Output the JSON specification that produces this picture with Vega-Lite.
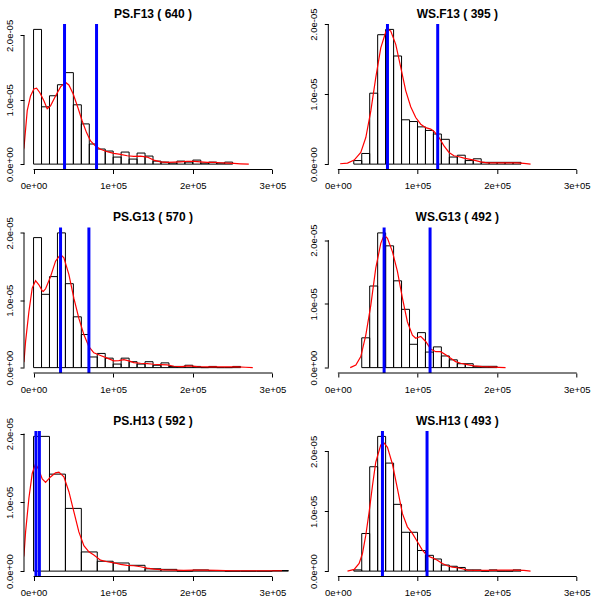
{
  "$schema": "https://vega.github.io/schema/vega-lite/v6.json",
  "background": "white",
  "padding": {"left": 3, "top": 7, "right": 0, "bottom": 0},
  "columns": 2,
  "bounds": "flush",
  "spacing": {"row": 57.5, "column": 46.3},
  "config": {
    "view": {"stroke": null},
    "font": "Liberation Sans",
    "text": {"font": "Liberation Sans", "fontSize": 12, "fontWeight": "bold", "color": "black", "align": "center", "baseline": "alphabetic", "dy": -6.5},
    "axisX": {"domain": false, "grid": false, "tickSize": 4, "tickColor": "black", "tickWidth": 1, "labelFont": "Liberation Sans", "labelFontSize": 9.5, "labelColor": "black", "labelPadding": 15, "labelBaseline": "alphabetic", "labelFlush": false, "labelOverlap": false},
    "axisY": {"domain": false, "grid": false, "tickSize": 4, "tickColor": "black", "tickWidth": 1, "labelFont": "Liberation Sans", "labelFontSize": 9.5, "labelColor": "black", "labelAngle": -90, "labelAlign": "center", "labelBaseline": "alphabetic", "labelPadding": 8, "labelFlush": false, "labelOverlap": false}
  },
  "datasets": {
    "b1": [
      {"x0": 0, "x1": 10000, "d": 2.094e-5}, {"x0": 10000, "x1": 20000, "d": 8.906e-6}, {"x0": 20000, "x1": 30000, "d": 1.0625e-5},
      {"x0": 30000, "x1": 40000, "d": 1.234e-5}, {"x0": 40000, "x1": 50000, "d": 1.422e-5}, {"x0": 50000, "x1": 60000, "d": 9.219e-6},
      {"x0": 60000, "x1": 70000, "d": 6.25e-6}, {"x0": 70000, "x1": 80000, "d": 3.125e-6}, {"x0": 80000, "x1": 90000, "d": 2.344e-6},
      {"x0": 90000, "x1": 100000, "d": 2.031e-6}, {"x0": 100000, "x1": 110000, "d": 1.094e-6}, {"x0": 110000, "x1": 120000, "d": 1.875e-6},
      {"x0": 120000, "x1": 130000, "d": 7.81e-7}, {"x0": 130000, "x1": 140000, "d": 1.719e-6}, {"x0": 140000, "x1": 150000, "d": 1.25e-6},
      {"x0": 150000, "x1": 160000, "d": 4.69e-7}, {"x0": 160000, "x1": 170000, "d": 3.13e-7}, {"x0": 170000, "x1": 180000, "d": 1.56e-7},
      {"x0": 180000, "x1": 190000, "d": 4.69e-7}, {"x0": 190000, "x1": 200000, "d": 3.13e-7}, {"x0": 200000, "x1": 210000, "d": 6.25e-7},
      {"x0": 210000, "x1": 220000, "d": 1.56e-7}, {"x0": 220000, "x1": 230000, "d": 3.13e-7}, {"x0": 230000, "x1": 240000, "d": 1.56e-7},
      {"x0": 240000, "x1": 250000, "d": 3.13e-7}
    ],
    "d1": [
      {"x": -16000, "d": 1.0e-6}, {"x": -12000, "d": 2.55e-6}, {"x": -7950, "d": 8.3e-6}, {"x": -3770, "d": 1.06e-5}, {"x": 420, "d": 1.167e-5},
      {"x": 3770, "d": 1.18e-5}, {"x": 7950, "d": 1.11e-5}, {"x": 12970, "d": 9.84e-6}, {"x": 17150, "d": 8.6e-6}, {"x": 21340, "d": 9.06e-6},
      {"x": 27600, "d": 1.06e-5}, {"x": 33900, "d": 1.2e-5}, {"x": 40170, "d": 1.27e-5}, {"x": 44350, "d": 1.23e-5}, {"x": 49800, "d": 1.09e-5},
      {"x": 55650, "d": 8.8e-6}, {"x": 61090, "d": 6.7e-6}, {"x": 66530, "d": 4.9e-6}, {"x": 71550, "d": 3.6e-6}, {"x": 77800, "d": 2.8e-6},
      {"x": 84100, "d": 2.3e-6}, {"x": 92470, "d": 1.93e-6}, {"x": 100800, "d": 1.67e-6}, {"x": 109200, "d": 1.5e-6}, {"x": 117600, "d": 1.3e-6},
      {"x": 125900, "d": 1.2e-6}, {"x": 134300, "d": 1.25e-6}, {"x": 142700, "d": 1.1e-6}, {"x": 151000, "d": 6.3e-7}, {"x": 159400, "d": 3.6e-7},
      {"x": 167800, "d": 2.6e-7}, {"x": 176200, "d": 3.1e-7}, {"x": 184500, "d": 3.6e-7}, {"x": 192900, "d": 4.2e-7}, {"x": 201300, "d": 4.2e-7},
      {"x": 209600, "d": 3.6e-7}, {"x": 218000, "d": 2.6e-7}, {"x": 226400, "d": 2.6e-7}, {"x": 234700, "d": 2.1e-7}, {"x": 243100, "d": 1.6e-7},
      {"x": 251500, "d": 1.0e-7}, {"x": 259800, "d": 5e-8}, {"x": 270300, "d": 0}
    ],
    "v1": [{"x": 38900}, {"x": 79100}],
    "b2": [
      {"x0": 20000, "x1": 30000, "d": 5.06e-7}, {"x0": 30000, "x1": 40000, "d": 1.519e-6}, {"x0": 40000, "x1": 50000, "d": 1.0127e-5},
      {"x0": 50000, "x1": 60000, "d": 1.848e-5}, {"x0": 60000, "x1": 70000, "d": 1.924e-5}, {"x0": 70000, "x1": 80000, "d": 1.544e-5},
      {"x0": 80000, "x1": 90000, "d": 6.33e-6}, {"x0": 90000, "x1": 100000, "d": 6.08e-6}, {"x0": 100000, "x1": 110000, "d": 5.32e-6},
      {"x0": 110000, "x1": 120000, "d": 4.81e-6}, {"x0": 120000, "x1": 130000, "d": 4.30e-6}, {"x0": 130000, "x1": 140000, "d": 3.54e-6},
      {"x0": 140000, "x1": 150000, "d": 1.01e-6}, {"x0": 150000, "x1": 160000, "d": 1.27e-6}, {"x0": 160000, "x1": 170000, "d": 5.06e-7},
      {"x0": 170000, "x1": 180000, "d": 7.59e-7}, {"x0": 180000, "x1": 190000, "d": 2.53e-7}, {"x0": 190000, "x1": 200000, "d": 2.53e-7},
      {"x0": 200000, "x1": 210000, "d": 2.53e-7}, {"x0": 210000, "x1": 220000, "d": 2.53e-7}, {"x0": 220000, "x1": 230000, "d": 2.53e-7}
    ],
    "d2": [
      {"x": 2900, "d": 5e-8}, {"x": 12100, "d": 1.4e-7}, {"x": 20500, "d": 5.7e-7}, {"x": 28800, "d": 1.66e-6}, {"x": 35100, "d": 3.8e-6},
      {"x": 41400, "d": 7.6e-6}, {"x": 47600, "d": 1.235e-5}, {"x": 53900, "d": 1.66e-5}, {"x": 60200, "d": 1.89e-5}, {"x": 63100, "d": 1.924e-5},
      {"x": 66400, "d": 1.90e-5}, {"x": 72700, "d": 1.71e-5}, {"x": 79000, "d": 1.38e-5}, {"x": 85200, "d": 1.05e-5}, {"x": 91500, "d": 8.2e-6},
      {"x": 97800, "d": 6.65e-6}, {"x": 104100, "d": 5.7e-6}, {"x": 110300, "d": 5.2e-6}, {"x": 116600, "d": 5.0e-6}, {"x": 120800, "d": 4.66e-6},
      {"x": 127000, "d": 3.8e-6}, {"x": 133300, "d": 2.6e-6}, {"x": 139600, "d": 1.66e-6}, {"x": 145800, "d": 1.19e-6}, {"x": 152100, "d": 1.05e-6},
      {"x": 158400, "d": 8.6e-7}, {"x": 164600, "d": 7.1e-7}, {"x": 170900, "d": 5.7e-7}, {"x": 179300, "d": 3.3e-7}, {"x": 187600, "d": 1.9e-7},
      {"x": 200200, "d": 1.9e-7}, {"x": 212700, "d": 1.9e-7}, {"x": 225200, "d": 1.9e-7}, {"x": 233600, "d": 1.0e-7}, {"x": 242000, "d": 0}
    ],
    "v2": [{"x": 62300}, {"x": 125400}],
    "b3": [
      {"x0": 0, "x1": 10000, "d": 1.93e-5}, {"x0": 10000, "x1": 20000, "d": 1.088e-5}, {"x0": 20000, "x1": 30000, "d": 1.351e-5},
      {"x0": 30000, "x1": 40000, "d": 2.0e-5}, {"x0": 40000, "x1": 50000, "d": 1.246e-5}, {"x0": 50000, "x1": 60000, "d": 7.54e-6},
      {"x0": 60000, "x1": 70000, "d": 4.91e-6}, {"x0": 70000, "x1": 80000, "d": 1.579e-6}, {"x0": 80000, "x1": 90000, "d": 2.105e-6},
      {"x0": 90000, "x1": 100000, "d": 1.404e-6}, {"x0": 100000, "x1": 110000, "d": 5.26e-7}, {"x0": 110000, "x1": 120000, "d": 1.404e-6},
      {"x0": 120000, "x1": 130000, "d": 8.77e-7}, {"x0": 130000, "x1": 140000, "d": 5.26e-7}, {"x0": 140000, "x1": 150000, "d": 8.77e-7},
      {"x0": 150000, "x1": 160000, "d": 3.51e-7}, {"x0": 160000, "x1": 170000, "d": 7.02e-7}, {"x0": 170000, "x1": 180000, "d": 1.75e-7},
      {"x0": 180000, "x1": 190000, "d": 1.75e-7}, {"x0": 190000, "x1": 200000, "d": 3.51e-7}, {"x0": 200000, "x1": 210000, "d": 1.75e-7},
      {"x0": 210000, "x1": 220000, "d": 0}, {"x0": 220000, "x1": 230000, "d": 1.75e-7}, {"x0": 230000, "x1": 240000, "d": 0},
      {"x0": 240000, "x1": 250000, "d": 0}, {"x0": 250000, "x1": 260000, "d": 1.75e-7}
    ],
    "d3": [
      {"x": -16000, "d": 2.0e-7}, {"x": -12000, "d": 9.0e-7}, {"x": -10000, "d": 3.9e-6}, {"x": -5860, "d": 8.3e-6}, {"x": -1670, "d": 1.18e-5},
      {"x": 2500, "d": 1.29e-5}, {"x": 6700, "d": 1.23e-5}, {"x": 10900, "d": 1.14e-5}, {"x": 12200, "d": 1.13e-5}, {"x": 15100, "d": 1.17e-5},
      {"x": 21300, "d": 1.35e-5}, {"x": 27600, "d": 1.58e-5}, {"x": 33900, "d": 1.68e-5}, {"x": 38100, "d": 1.63e-5}, {"x": 44400, "d": 1.38e-5},
      {"x": 50600, "d": 1.03e-5}, {"x": 56900, "d": 7.3e-6}, {"x": 63200, "d": 4.9e-6}, {"x": 69500, "d": 3.1e-6}, {"x": 75700, "d": 2.2e-6},
      {"x": 84100, "d": 1.8e-6}, {"x": 92500, "d": 1.4e-6}, {"x": 100800, "d": 1.0e-6}, {"x": 107100, "d": 1.04e-6}, {"x": 113400, "d": 1.19e-6},
      {"x": 119700, "d": 1.0e-6}, {"x": 125900, "d": 7.4e-7}, {"x": 134300, "d": 6.5e-7}, {"x": 142700, "d": 6.0e-7}, {"x": 151000, "d": 5.0e-7},
      {"x": 159400, "d": 4.5e-7}, {"x": 167800, "d": 4.0e-7}, {"x": 176200, "d": 2.0e-7}, {"x": 186600, "d": 1.5e-7}, {"x": 195000, "d": 2.5e-7},
      {"x": 205400, "d": 1.5e-7}, {"x": 218000, "d": 1.0e-7}, {"x": 230500, "d": 1.0e-7}, {"x": 243100, "d": 1.0e-7}, {"x": 255600, "d": 1.0e-7},
      {"x": 266100, "d": 5e-8}, {"x": 275300, "d": 0}
    ],
    "v3": [{"x": 33900}, {"x": 69500}],
    "b4": [
      {"x0": 30000, "x1": 40000, "d": 4.675e-6}, {"x0": 40000, "x1": 50000, "d": 1.2805e-5}, {"x0": 50000, "x1": 60000, "d": 2.1138e-5},
      {"x0": 60000, "x1": 70000, "d": 1.9106e-5}, {"x0": 70000, "x1": 80000, "d": 1.3618e-5}, {"x0": 80000, "x1": 90000, "d": 9.146e-6},
      {"x0": 90000, "x1": 100000, "d": 3.659e-6}, {"x0": 100000, "x1": 110000, "d": 5.488e-6}, {"x0": 110000, "x1": 120000, "d": 2.439e-6},
      {"x0": 120000, "x1": 130000, "d": 3.252e-6}, {"x0": 130000, "x1": 140000, "d": 1.829e-6}, {"x0": 140000, "x1": 150000, "d": 1.220e-6},
      {"x0": 150000, "x1": 160000, "d": 6.10e-7}, {"x0": 160000, "x1": 170000, "d": 6.10e-7}, {"x0": 170000, "x1": 180000, "d": 2.03e-7},
      {"x0": 180000, "x1": 190000, "d": 2.03e-7}, {"x0": 190000, "x1": 200000, "d": 2.03e-7}
    ],
    "d4": [
      {"x": 15500, "d": 0}, {"x": 22600, "d": 4.2e-7}, {"x": 28800, "d": 1.73e-6}, {"x": 35100, "d": 5.1e-6}, {"x": 41400, "d": 9.8e-6},
      {"x": 47600, "d": 1.56e-5}, {"x": 53900, "d": 1.95e-5}, {"x": 58100, "d": 2.08e-5}, {"x": 62300, "d": 2.03e-5}, {"x": 68500, "d": 1.82e-5},
      {"x": 74800, "d": 1.51e-5}, {"x": 81100, "d": 1.09e-5}, {"x": 87300, "d": 7.2e-6}, {"x": 93600, "d": 5.1e-6}, {"x": 97800, "d": 4.6e-6},
      {"x": 104100, "d": 4.9e-6}, {"x": 110300, "d": 4.1e-6}, {"x": 116600, "d": 2.9e-6}, {"x": 122900, "d": 2.5e-6}, {"x": 129100, "d": 2.5e-6},
      {"x": 135400, "d": 2.0e-6}, {"x": 141700, "d": 1.47e-6}, {"x": 147900, "d": 9.4e-7}, {"x": 154200, "d": 6.8e-7}, {"x": 162600, "d": 4.7e-7},
      {"x": 170900, "d": 2.6e-7}, {"x": 181400, "d": 1.6e-7}, {"x": 191800, "d": 1.0e-7}, {"x": 202300, "d": 5e-8}, {"x": 210600, "d": 0}
    ],
    "v4": [{"x": 58100}, {"x": 115800}],
    "b5": [
      {"x0": 0, "x1": 20000, "d": 1.9595e-5}, {"x0": 20000, "x1": 40000, "d": 1.4105e-5}, {"x0": 40000, "x1": 60000, "d": 9.122e-6},
      {"x0": 60000, "x1": 80000, "d": 2.787e-6}, {"x0": 80000, "x1": 100000, "d": 1.436e-6}, {"x0": 100000, "x1": 120000, "d": 1.182e-6},
      {"x0": 120000, "x1": 140000, "d": 8.45e-7}, {"x0": 140000, "x1": 160000, "d": 3.38e-7}, {"x0": 160000, "x1": 180000, "d": 2.53e-7},
      {"x0": 180000, "x1": 200000, "d": 0}, {"x0": 200000, "x1": 220000, "d": 1.69e-7}, {"x0": 220000, "x1": 240000, "d": 8.4e-8},
      {"x0": 240000, "x1": 260000, "d": 0}, {"x0": 260000, "x1": 280000, "d": 0}, {"x0": 280000, "x1": 300000, "d": 0},
      {"x0": 300000, "x1": 320000, "d": 8.4e-8}
    ],
    "d5": [
      {"x": -16000, "d": 6.0e-7}, {"x": -12000, "d": 2.33e-6}, {"x": -10000, "d": 5.7e-6}, {"x": -5860, "d": 1.06e-5}, {"x": -1670, "d": 1.42e-5},
      {"x": 2500, "d": 1.56e-5}, {"x": 6700, "d": 1.47e-5}, {"x": 10900, "d": 1.34e-5}, {"x": 15100, "d": 1.29e-5}, {"x": 21300, "d": 1.37e-5},
      {"x": 27600, "d": 1.43e-5}, {"x": 31800, "d": 1.44e-5}, {"x": 38100, "d": 1.37e-5}, {"x": 44400, "d": 1.155e-5}, {"x": 50600, "d": 8.64e-6},
      {"x": 56900, "d": 5.7e-6}, {"x": 63200, "d": 3.7e-6}, {"x": 69500, "d": 2.8e-6}, {"x": 75700, "d": 2.33e-6}, {"x": 84100, "d": 1.6e-6},
      {"x": 92500, "d": 1.36e-6}, {"x": 100800, "d": 1.21e-6}, {"x": 109200, "d": 9.7e-7}, {"x": 117600, "d": 8.3e-7}, {"x": 125900, "d": 7.8e-7},
      {"x": 134300, "d": 6.3e-7}, {"x": 142700, "d": 4.4e-7}, {"x": 151000, "d": 2.9e-7}, {"x": 163600, "d": 1.9e-7}, {"x": 176200, "d": 1.5e-7},
      {"x": 188700, "d": 1.0e-7}, {"x": 201300, "d": 1.5e-7}, {"x": 213800, "d": 1.5e-7}, {"x": 230500, "d": 1.0e-7}, {"x": 251500, "d": 5e-8},
      {"x": 272400, "d": 5e-8}, {"x": 293300, "d": 5e-8}, {"x": 316000, "d": 5e-8}
    ],
    "v5": [{"x": 3000}, {"x": 7300}],
    "b6": [
      {"x0": 20000, "x1": 30000, "d": 2.03e-7}, {"x0": 30000, "x1": 40000, "d": 6.288e-6}, {"x0": 40000, "x1": 50000, "d": 1.7444e-5},
      {"x0": 50000, "x1": 60000, "d": 2.2515e-5}, {"x0": 60000, "x1": 70000, "d": 1.8053e-5}, {"x0": 70000, "x1": 80000, "d": 1.1156e-5},
      {"x0": 80000, "x1": 90000, "d": 6.491e-6}, {"x0": 90000, "x1": 100000, "d": 6.491e-6}, {"x0": 100000, "x1": 110000, "d": 3.448e-6},
      {"x0": 110000, "x1": 120000, "d": 2.637e-6}, {"x0": 120000, "x1": 130000, "d": 2.028e-6}, {"x0": 130000, "x1": 140000, "d": 1.014e-6},
      {"x0": 140000, "x1": 150000, "d": 8.11e-7}, {"x0": 150000, "x1": 160000, "d": 6.09e-7}, {"x0": 160000, "x1": 170000, "d": 2.03e-7},
      {"x0": 170000, "x1": 180000, "d": 2.03e-7}, {"x0": 180000, "x1": 190000, "d": 0}, {"x0": 190000, "x1": 200000, "d": 2.03e-7},
      {"x0": 200000, "x1": 210000, "d": 0}, {"x0": 210000, "x1": 220000, "d": 0}, {"x0": 220000, "x1": 230000, "d": 2.03e-7}
    ],
    "d6": [
      {"x": 12100, "d": 0}, {"x": 20500, "d": 2.8e-7}, {"x": 26700, "d": 1.28e-6}, {"x": 30900, "d": 2.94e-6}, {"x": 35100, "d": 6.0e-6},
      {"x": 39300, "d": 9.9e-6}, {"x": 43500, "d": 1.43e-5}, {"x": 47600, "d": 1.82e-5}, {"x": 53900, "d": 2.11e-5}, {"x": 58100, "d": 2.14e-5},
      {"x": 62300, "d": 2.07e-5}, {"x": 68500, "d": 1.79e-5}, {"x": 74800, "d": 1.38e-5}, {"x": 81100, "d": 9.6e-6}, {"x": 87300, "d": 7.4e-6},
      {"x": 93600, "d": 6.3e-6}, {"x": 99900, "d": 4.9e-6}, {"x": 106100, "d": 3.5e-6}, {"x": 112400, "d": 2.56e-6}, {"x": 118700, "d": 2.22e-6},
      {"x": 124900, "d": 1.83e-6}, {"x": 131200, "d": 1.28e-6}, {"x": 137500, "d": 8.9e-7}, {"x": 143700, "d": 6.7e-7}, {"x": 150000, "d": 5.6e-7},
      {"x": 156300, "d": 3.9e-7}, {"x": 162600, "d": 1.7e-7}, {"x": 175100, "d": 1.1e-7}, {"x": 187600, "d": 1.1e-7}, {"x": 204300, "d": 1.7e-7},
      {"x": 221100, "d": 1.7e-7}, {"x": 233600, "d": 1.1e-7}, {"x": 242000, "d": 0}
    ],
    "v6": [{"x": 56000}, {"x": 112000}],
    "one": [{}]
  },
  "concat": [
    {
      "width": 258, "height": 145.5,
      "layer": [
        {"data": {"name": "b1"}, "mark": {"type": "rect", "fill": "transparent", "stroke": "black", "strokeWidth": 1},
         "encoding": {
           "x": {"field": "x0", "type": "quantitative", "title": null, "scale": {"domain": [-12000, 312000], "nice": false, "zero": false},
                 "axis": {"values": [0, 100000, 200000, 300000], "labelExpr": "datum.value == 0 ? '0e+00' : datum.value == 100000 ? '1e+05' : datum.value == 200000 ? '2e+05' : '3e+05'"}},
           "x2": {"field": "x1"},
           "y": {"field": "d", "type": "quantitative", "title": null, "scale": {"domain": [-8.376e-7, 2.1778e-5], "nice": false, "zero": false},
                 "axis": {"values": [0, 5e-6, 1e-5, 1.5e-5, 2e-5], "labelExpr": "datum.value == 0 ? '0.0e+00' : abs(datum.value - 1e-5) < 1e-9 ? '1.0e-05' : abs(datum.value - 2e-5) < 1e-9 ? '2.0e-05' : ''"}},
           "y2": {"datum": 0}}},
        {"data": {"name": "d1"}, "mark": {"type": "line", "color": "#ff0000", "strokeWidth": 1.2, "clip": true},
         "encoding": {"x": {"field": "x", "type": "quantitative", "title": null}, "y": {"field": "d", "type": "quantitative", "title": null}}},
        {"data": {"name": "v1"}, "mark": {"type": "rule", "color": "#0000ff", "strokeWidth": 3},
         "encoding": {"x": {"field": "x", "type": "quantitative", "title": null}}},
        {"data": {"name": "one"}, "mark": {"type": "rule", "color": "black", "strokeWidth": 1},
         "encoding": {"x": {"datum": 0, "title": null}, "x2": {"datum": 300000}, "y": {"value": "height"}}},
        {"data": {"name": "one"}, "mark": {"type": "rule", "color": "black", "strokeWidth": 1},
         "encoding": {"x": {"datum": -12000, "title": null}, "y": {"datum": 0, "title": null}, "y2": {"datum": 2e-5}}},
        {"data": {"name": "one"}, "mark": {"type": "text"},
         "encoding": {"x": {"datum": 150000, "title": null}, "y": {"datum": 2.1778e-5, "title": null}, "text": {"value": "PS.F13 ( 640 )"}}}
      ]
    },
    {
      "width": 258, "height": 145.5,
      "layer": [
        {"data": {"name": "b2"}, "mark": {"type": "rect", "fill": "transparent", "stroke": "black", "strokeWidth": 1},
         "encoding": {
           "x": {"field": "x0", "type": "quantitative", "title": null, "scale": {"domain": [-12000, 312000], "nice": false, "zero": false},
                 "axis": {"values": [0, 100000, 200000, 300000], "labelExpr": "datum.value == 0 ? '0e+00' : datum.value == 100000 ? '1e+05' : datum.value == 200000 ? '2e+05' : '3e+05'"}},
           "x2": {"field": "x1"},
           "y": {"field": "d", "type": "quantitative", "title": null, "scale": {"domain": [-7.696e-7, 2.001e-5], "nice": false, "zero": false},
                 "axis": {"values": [0, 5e-6, 1e-5, 1.5e-5, 2e-5], "labelExpr": "datum.value == 0 ? '0.0e+00' : abs(datum.value - 1e-5) < 1e-9 ? '1.0e-05' : abs(datum.value - 2e-5) < 1e-9 ? '2.0e-05' : ''"}},
           "y2": {"datum": 0}}},
        {"data": {"name": "d2"}, "mark": {"type": "line", "color": "#ff0000", "strokeWidth": 1.2, "clip": true},
         "encoding": {"x": {"field": "x", "type": "quantitative", "title": null}, "y": {"field": "d", "type": "quantitative", "title": null}}},
        {"data": {"name": "v2"}, "mark": {"type": "rule", "color": "#0000ff", "strokeWidth": 3},
         "encoding": {"x": {"field": "x", "type": "quantitative", "title": null}}},
        {"data": {"name": "one"}, "mark": {"type": "rule", "color": "black", "strokeWidth": 1},
         "encoding": {"x": {"datum": 0, "title": null}, "x2": {"datum": 300000}, "y": {"value": "height"}}},
        {"data": {"name": "one"}, "mark": {"type": "rule", "color": "black", "strokeWidth": 1},
         "encoding": {"x": {"datum": -12000, "title": null}, "y": {"datum": 0, "title": null}, "y2": {"datum": 2e-5}}},
        {"data": {"name": "one"}, "mark": {"type": "text"},
         "encoding": {"x": {"datum": 150000, "title": null}, "y": {"datum": 2.001e-5, "title": null}, "text": {"value": "WS.F13 ( 395 )"}}}
      ]
    },
    {
      "width": 258, "height": 145.5,
      "layer": [
        {"data": {"name": "b3"}, "mark": {"type": "rect", "fill": "transparent", "stroke": "black", "strokeWidth": 1},
         "encoding": {
           "x": {"field": "x0", "type": "quantitative", "title": null, "scale": {"domain": [-12000, 312000], "nice": false, "zero": false},
                 "axis": {"values": [0, 100000, 200000, 300000], "labelExpr": "datum.value == 0 ? '0e+00' : datum.value == 100000 ? '1e+05' : datum.value == 200000 ? '2e+05' : '3e+05'"}},
           "x2": {"field": "x1"},
           "y": {"field": "d", "type": "quantitative", "title": null, "scale": {"domain": [-8.0e-7, 2.08e-5], "nice": false, "zero": false},
                 "axis": {"values": [0, 5e-6, 1e-5, 1.5e-5, 2e-5], "labelExpr": "datum.value == 0 ? '0.0e+00' : abs(datum.value - 1e-5) < 1e-9 ? '1.0e-05' : abs(datum.value - 2e-5) < 1e-9 ? '2.0e-05' : ''"}},
           "y2": {"datum": 0}}},
        {"data": {"name": "d3"}, "mark": {"type": "line", "color": "#ff0000", "strokeWidth": 1.2, "clip": true},
         "encoding": {"x": {"field": "x", "type": "quantitative", "title": null}, "y": {"field": "d", "type": "quantitative", "title": null}}},
        {"data": {"name": "v3"}, "mark": {"type": "rule", "color": "#0000ff", "strokeWidth": 3},
         "encoding": {"x": {"field": "x", "type": "quantitative", "title": null}}},
        {"data": {"name": "one"}, "mark": {"type": "rule", "color": "black", "strokeWidth": 1},
         "encoding": {"x": {"datum": 0, "title": null}, "x2": {"datum": 300000}, "y": {"value": "height"}}},
        {"data": {"name": "one"}, "mark": {"type": "rule", "color": "black", "strokeWidth": 1},
         "encoding": {"x": {"datum": -12000, "title": null}, "y": {"datum": 0, "title": null}, "y2": {"datum": 2e-5}}},
        {"data": {"name": "one"}, "mark": {"type": "text"},
         "encoding": {"x": {"datum": 150000, "title": null}, "y": {"datum": 2.08e-5, "title": null}, "text": {"value": "PS.G13 ( 570 )"}}}
      ]
    },
    {
      "width": 258, "height": 145.5,
      "layer": [
        {"data": {"name": "b4"}, "mark": {"type": "rect", "fill": "transparent", "stroke": "black", "strokeWidth": 1},
         "encoding": {
           "x": {"field": "x0", "type": "quantitative", "title": null, "scale": {"domain": [-12000, 312000], "nice": false, "zero": false},
                 "axis": {"values": [0, 100000, 200000, 300000], "labelExpr": "datum.value == 0 ? '0e+00' : datum.value == 100000 ? '1e+05' : datum.value == 200000 ? '2e+05' : '3e+05'"}},
           "x2": {"field": "x1"},
           "y": {"field": "d", "type": "quantitative", "title": null, "scale": {"domain": [-8.455e-7, 2.1984e-5], "nice": false, "zero": false},
                 "axis": {"values": [0, 5e-6, 1e-5, 1.5e-5, 2e-5], "labelExpr": "datum.value == 0 ? '0.0e+00' : abs(datum.value - 1e-5) < 1e-9 ? '1.0e-05' : abs(datum.value - 2e-5) < 1e-9 ? '2.0e-05' : ''"}},
           "y2": {"datum": 0}}},
        {"data": {"name": "d4"}, "mark": {"type": "line", "color": "#ff0000", "strokeWidth": 1.2, "clip": true},
         "encoding": {"x": {"field": "x", "type": "quantitative", "title": null}, "y": {"field": "d", "type": "quantitative", "title": null}}},
        {"data": {"name": "v4"}, "mark": {"type": "rule", "color": "#0000ff", "strokeWidth": 3},
         "encoding": {"x": {"field": "x", "type": "quantitative", "title": null}}},
        {"data": {"name": "one"}, "mark": {"type": "rule", "color": "black", "strokeWidth": 1},
         "encoding": {"x": {"datum": 0, "title": null}, "x2": {"datum": 300000}, "y": {"value": "height"}}},
        {"data": {"name": "one"}, "mark": {"type": "rule", "color": "black", "strokeWidth": 1},
         "encoding": {"x": {"datum": -12000, "title": null}, "y": {"datum": 0, "title": null}, "y2": {"datum": 2e-5}}},
        {"data": {"name": "one"}, "mark": {"type": "text"},
         "encoding": {"x": {"datum": 150000, "title": null}, "y": {"datum": 2.1984e-5, "title": null}, "text": {"value": "WS.G13 ( 492 )"}}}
      ]
    },
    {
      "width": 258, "height": 145.5,
      "layer": [
        {"data": {"name": "b5"}, "mark": {"type": "rect", "fill": "transparent", "stroke": "black", "strokeWidth": 1},
         "encoding": {
           "x": {"field": "x0", "type": "quantitative", "title": null, "scale": {"domain": [-12000, 312000], "nice": false, "zero": false},
                 "axis": {"values": [0, 100000, 200000, 300000], "labelExpr": "datum.value == 0 ? '0e+00' : datum.value == 100000 ? '1e+05' : datum.value == 200000 ? '2e+05' : '3e+05'"}},
           "x2": {"field": "x1"},
           "y": {"field": "d", "type": "quantitative", "title": null, "scale": {"domain": [-7.838e-7, 2.0379e-5], "nice": false, "zero": false},
                 "axis": {"values": [0, 5e-6, 1e-5, 1.5e-5, 2e-5], "labelExpr": "datum.value == 0 ? '0.0e+00' : abs(datum.value - 1e-5) < 1e-9 ? '1.0e-05' : abs(datum.value - 2e-5) < 1e-9 ? '2.0e-05' : ''"}},
           "y2": {"datum": 0}}},
        {"data": {"name": "d5"}, "mark": {"type": "line", "color": "#ff0000", "strokeWidth": 1.2, "clip": true},
         "encoding": {"x": {"field": "x", "type": "quantitative", "title": null}, "y": {"field": "d", "type": "quantitative", "title": null}}},
        {"data": {"name": "v5"}, "mark": {"type": "rule", "color": "#0000ff", "strokeWidth": 3},
         "encoding": {"x": {"field": "x", "type": "quantitative", "title": null}}},
        {"data": {"name": "one"}, "mark": {"type": "rule", "color": "black", "strokeWidth": 1},
         "encoding": {"x": {"datum": 0, "title": null}, "x2": {"datum": 300000}, "y": {"value": "height"}}},
        {"data": {"name": "one"}, "mark": {"type": "rule", "color": "black", "strokeWidth": 1},
         "encoding": {"x": {"datum": -12000, "title": null}, "y": {"datum": 0, "title": null}, "y2": {"datum": 2e-5}}},
        {"data": {"name": "one"}, "mark": {"type": "text"},
         "encoding": {"x": {"datum": 150000, "title": null}, "y": {"datum": 2.0379e-5, "title": null}, "text": {"value": "PS.H13 ( 592 )"}}}
      ]
    },
    {
      "width": 258, "height": 145.5,
      "layer": [
        {"data": {"name": "b6"}, "mark": {"type": "rect", "fill": "transparent", "stroke": "black", "strokeWidth": 1},
         "encoding": {
           "x": {"field": "x0", "type": "quantitative", "title": null, "scale": {"domain": [-12000, 312000], "nice": false, "zero": false},
                 "axis": {"values": [0, 100000, 200000, 300000], "labelExpr": "datum.value == 0 ? '0e+00' : datum.value == 100000 ? '1e+05' : datum.value == 200000 ? '2e+05' : '3e+05'"}},
           "x2": {"field": "x1"},
           "y": {"field": "d", "type": "quantitative", "title": null, "scale": {"domain": [-9.006e-7, 2.3416e-5], "nice": false, "zero": false},
                 "axis": {"values": [0, 5e-6, 1e-5, 1.5e-5, 2e-5], "labelExpr": "datum.value == 0 ? '0.0e+00' : abs(datum.value - 1e-5) < 1e-9 ? '1.0e-05' : abs(datum.value - 2e-5) < 1e-9 ? '2.0e-05' : ''"}},
           "y2": {"datum": 0}}},
        {"data": {"name": "d6"}, "mark": {"type": "line", "color": "#ff0000", "strokeWidth": 1.2, "clip": true},
         "encoding": {"x": {"field": "x", "type": "quantitative", "title": null}, "y": {"field": "d", "type": "quantitative", "title": null}}},
        {"data": {"name": "v6"}, "mark": {"type": "rule", "color": "#0000ff", "strokeWidth": 3},
         "encoding": {"x": {"field": "x", "type": "quantitative", "title": null}}},
        {"data": {"name": "one"}, "mark": {"type": "rule", "color": "black", "strokeWidth": 1},
         "encoding": {"x": {"datum": 0, "title": null}, "x2": {"datum": 300000}, "y": {"value": "height"}}},
        {"data": {"name": "one"}, "mark": {"type": "rule", "color": "black", "strokeWidth": 1},
         "encoding": {"x": {"datum": -12000, "title": null}, "y": {"datum": 0, "title": null}, "y2": {"datum": 2e-5}}},
        {"data": {"name": "one"}, "mark": {"type": "text"},
         "encoding": {"x": {"datum": 150000, "title": null}, "y": {"datum": 2.3416e-5, "title": null}, "text": {"value": "WS.H13 ( 493 )"}}}
      ]
    }
  ]
}
